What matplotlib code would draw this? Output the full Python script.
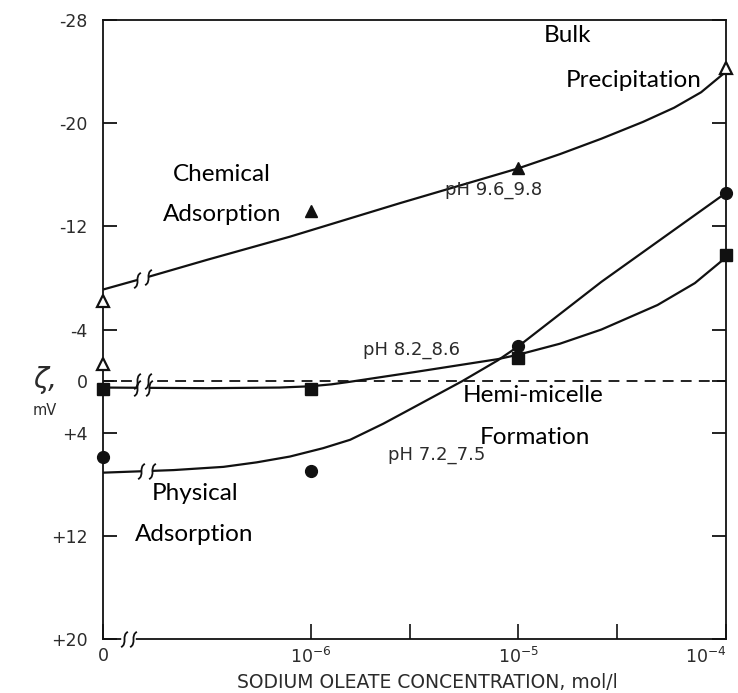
import matplotlib

matplotlib.use("Agg")
import matplotlib.pyplot as plt
import numpy as np
from matplotlib.path import Path

# concentrations of the measured points (mol/l); 0 is drawn one decade below 1e-6
CONC = [0, 1e-6, 1e-5, 1e-4]
ZERO_POS = -7.0

# measured zeta potentials, mV (pH series)
TRI_OPEN_CONC = [0, 0, 1e-4]
TRI_OPEN_ZETA = [-6.2, -1.3, -24.3]
TRI_FILLED_CONC = [1e-6, 1e-5]
TRI_FILLED_ZETA = [-13.2, -16.5]
CIRCLE_ZETA = [5.9, 7.0, -2.7, -14.6]
SQUARE_ZETA = [0.6, 0.6, -1.8, -9.8]

# hand-drawn trend curves, x in log10(concentration)
TRI_CURVE_X = [-7.0, -6.8, -6.5, -6.1, -5.57, -5.0, -4.8, -4.6, -4.4, -4.25, -4.12, -4.0]
TRI_CURVE_Z = [-7.1, -8.0, -9.4, -11.2, -13.8, -16.5, -17.6, -18.8, -20.1, -21.2, -22.4, -24.0]
CIRCLE_CURVE_X = [-7.0, -6.66, -6.42, -6.26, -6.1, -5.94, -5.81, -5.65, -5.5, -5.27,
                  -5.1, -5.0, -4.6, -4.0]
CIRCLE_CURVE_Z = [7.1, 6.9, 6.65, 6.3, 5.85, 5.2, 4.55, 3.3, 2.0, 0.0,
                  -1.6, -2.7, -7.7, -14.6]
SQUARE_CURVE_X = [-7.0, -6.5, -6.15, -6.0, -5.9, -5.81, -5.5, -5.1, -5.0, -4.8,
                  -4.6, -4.33, -4.15, -4.0]
SQUARE_CURVE_Z = [0.5, 0.55, 0.5, 0.4, 0.25, 0.05, -0.7, -1.7, -2.05, -2.9,
                  -4.0, -5.9, -7.6, -9.6]

Y_TICKS = [-28, -20, -12, -4, 0, 4, 12, 20]
Y_TICK_LABELS = ["-28", "-20", "-12", "-4", "0", "+4", "+12", "+20"]
X_TICKS = [0, 1e-6, 1e-5, 1e-4]
X_TICK_LABELS = ["0", "$10^{-6}$", "$10^{-5}$", "$10^{-4}$"]
X_MINOR = [3e-6, 3e-5]

INK = "#111111"
LETTER = "#2b2b2b"


def pos(c):
    c = np.atleast_1d(np.asarray(c, dtype=float))
    out = np.full(c.shape, ZERO_POS)
    nz = c > 0
    out[nz] = np.log10(c[nz])
    return out


# small S-shaped stroke used for the axis breaks
BREAK_MARK = Path(
    [(-0.45, -1.0), (0.45, -0.55), (-0.45, 0.55), (0.45, 1.0)],
    [Path.MOVETO, Path.CURVE4, Path.CURVE4, Path.CURVE4],
)

fig = plt.figure(figsize=(7.38, 6.93), dpi=100)
ax = fig.add_axes([0.1396, 0.0779, 0.8442, 0.8932])

ax.set_xlim(ZERO_POS, -4.0)
ax.set_ylim(20, -28)

# zero reference
ax.plot([ZERO_POS, -4.0], [0, 0], color=INK, lw=1.3, ls=(0, (6, 4)), zorder=2)

curves = [
    (TRI_CURVE_X, TRI_CURVE_Z, (-6.836, -6.783)),
    (SQUARE_CURVE_X, SQUARE_CURVE_Z, (-6.836, -6.780)),
    (CIRCLE_CURVE_X, CIRCLE_CURVE_Z, (-6.815, -6.765)),
]
for cx, cz, (b0, b1) in curves:
    ax.plot(cx, cz, color=INK, lw=1.6, zorder=3, solid_capstyle="butt",
            solid_joinstyle="round")
    # open a gap in the curve and draw the break strokes
    gx = np.linspace(b0, b1, 10)
    ax.plot(gx, np.interp(gx, cx, cz), color="white", lw=4, zorder=3.5,
            solid_capstyle="butt")
    ax.plot([b0, b1], np.interp([b0, b1], cx, cz), ls="none", marker=BREAK_MARK,
            ms=11, mec=INK, mfc="none", mew=1.3, zorder=4)

# gap on the zero line too
ax.plot([-6.836, -6.783], [0, 0], color="white", lw=4, zorder=2.5)
ax.plot([-6.836, -6.783], [0, 0], ls="none", marker=BREAK_MARK, ms=11,
        mec=INK, mfc="none", mew=1.3, zorder=4)

# measured points
ax.plot(pos(TRI_OPEN_CONC), TRI_OPEN_ZETA, ls="none", marker="^", ms=9,
        mfc="white", mec=INK, mew=1.6, zorder=5, clip_on=False)
ax.plot(pos(TRI_FILLED_CONC), TRI_FILLED_ZETA, ls="none", marker="^", ms=9,
        mfc=INK, mec=INK, zorder=5, clip_on=False)
ax.plot(pos(CONC), CIRCLE_ZETA, ls="none", marker="o", ms=8.5,
        mfc=INK, mec=INK, zorder=5, clip_on=False)
ax.plot(pos(CONC), SQUARE_ZETA, ls="none", marker="s", ms=8,
        mfc=INK, mec=INK, zorder=5, clip_on=False)

# axes frame and ticks
for side in ["left", "right", "bottom", "top"]:
    ax.spines[side].set_color(INK)
    ax.spines[side].set_linewidth(1.3)

ax.set_yticks(Y_TICKS)
ax.set_yticklabels(Y_TICK_LABELS)
ax.set_xticks(pos(X_TICKS))
ax.set_xticklabels(X_TICK_LABELS)
ax.set_xticks(pos(X_MINOR), minor=True)
ax.tick_params(axis="y", direction="in", length=10, width=1.3, right=True,
               labelsize=12.5, labelcolor=LETTER, pad=11, color=INK)
ax.tick_params(axis="x", which="both", direction="in", length=11, width=1.2,
               top=False, labelsize=12.5, labelcolor=LETTER, pad=6, color=INK)
ax.get_xticklabels()[-1].set_horizontalalignment("right")

# break on the concentration axis
ax.plot([-6.90, -6.855], [20, 20], color="white", lw=4, zorder=6, clip_on=False)
ax.plot([-6.90, -6.855], [20, 20], ls="none", marker=BREAK_MARK, ms=11,
        mec=INK, mfc="none", mew=1.3, zorder=7, clip_on=False)

fig.text(427 / 738, 1 - 683 / 693, "SODIUM OLEATE CONCENTRATION, mol/l",
         fontsize=13.5, color=LETTER, ha="center", va="center")

fig.text(0.061, 0.451, "ζ,", fontsize=20, color=LETTER, ha="center",
         va="center", style="italic")
fig.text(0.061, 0.407, "mV", fontsize=10.5, color=LETTER, ha="center",
         va="center")

# series labels
ph_font = dict(fontsize=13, color=LETTER, ha="center", va="center")
ax.text(-5.121, -14.8, "pH 9.6_9.8", **ph_font)
ax.text(-5.516, -2.4, "pH 8.2_8.6", **ph_font)
ax.text(-5.391, 5.7, "pH 7.2_7.5", **ph_font)

# regime annotations
note = dict(fontsize=17.5, family="Lato", color="black", ha="center",
            va="center")
ax.text(-4.765, -26.8, "Bulk", **note)
ax.text(-4.447, -23.3, "Precipitation", **note)
ax.text(-6.427, -16.05, "Chemical", **note)
ax.text(-6.427, -12.9, "Adsorption", **note)
ax.text(-6.557, 8.75, "Physical", **note)
ax.text(-6.562, 11.9, "Adsorption", **note)
ax.text(-4.929, 1.08, "Hemi-micelle", **note)
ax.text(-4.92, 4.34, "Formation", **note)

fig.savefig("out.png", dpi=100)
plt.close(fig)
